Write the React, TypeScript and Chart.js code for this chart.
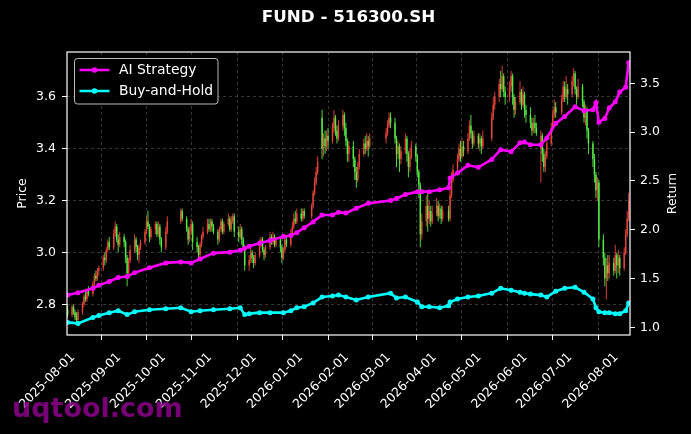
import React, { useEffect, useRef } from 'react';
import { Chart, registerables } from 'chart.js';

Chart.register(...registerables);

const TITLE = 'FUND - 516300.SH';
const ORIGIN = '2025-08-01';
const CANDLE_START = '2025-07-25';
const CANDLE_END = '2026-08-06';
const HOLIDAYS = [
  '2025-10-01', '2025-10-02', '2025-10-03', '2025-10-06', '2025-10-07', '2025-10-08',
  '2026-01-01', '2026-01-02',
  '2026-02-16', '2026-02-17', '2026-02-18', '2026-02-19', '2026-02-20', '2026-02-23',
  '2026-04-06', '2026-05-01', '2026-05-04', '2026-05-05', '2026-06-19',
];
const monthTicks = [
  '2025-08-01', '2025-09-01', '2025-10-01', '2025-11-01', '2025-12-01', '2026-01-01',
  '2026-02-01', '2026-03-01', '2026-04-01', '2026-05-01', '2026-06-01', '2026-07-01', '2026-08-01',
];
const priceTicks = [2.8, 3.0, 3.2, 3.4, 3.6];
const returnTicks = [1.0, 1.5, 2.0, 2.5, 3.0, 3.5];

const opens = [
  2.78,
  2.76, 2.79, 2.77, 2.75, 2.74,
  2.77, 2.80, 2.83, 2.82, 2.85,
  2.84, 2.88, 2.91, 2.90, 2.93,
  2.94, 2.98, 2.97, 3.01, 3.04,
  3.02, 3.07, 3.10, 3.05, 3.03,
  3.06, 3.04, 2.98, 2.92, 2.97,
  3.01, 3.05, 3.02, 2.99, 3.02,
  3.04, 3.08, 3.12, 3.10, 3.06,
  3.09, 3.11, 3.07, 3.10, 3.05,
  3.02, 3.08,
  3.12, 3.16,
  3.13, 3.09, 3.05, 3.08, 3.11,
  3.04, 3.02, 2.99, 3.03, 3.06,
  3.08, 3.11, 3.09, 3.12, 3.10,
  3.08, 3.05, 3.09, 3.12, 3.08,
  3.11, 3.13, 3.09, 3.12, 3.14,
  3.08, 3.06, 3.09, 3.05, 3.02,
  2.95, 2.97, 3.00, 2.98, 2.96,
  2.99, 3.03, 3.05, 3.01, 2.99,
  3.02, 3.06, 3.04, 3.06, 3.03,
  3.05, 3.02, 2.98, 3.01, 3.05,
  3.03, 3.07, 3.10, 3.13, 3.12,
  3.15, 3.13, 3.16,
  3.14, 3.18, 3.23, 3.27, 3.31,
  3.52, 3.40, 3.44, 3.41, 3.45,
  3.43, 3.48, 3.52, 3.47, 3.44,
  3.49, 3.53, 3.48, 3.43, 3.38,
  3.41, 3.36, 3.31, 3.28, 3.33,
  3.38, 3.42, 3.40, 3.43, 3.41,
  3.44, 3.46, 3.49, 3.52,
  3.50, 3.44, 3.38, 3.41, 3.36,
  3.39, 3.44, 3.38, 3.33, 3.37,
  3.41, 3.37, 3.31, 3.26, 3.07,
  3.12, 3.18, 3.13, 3.16, 3.12,
  3.15, 3.18, 3.14, 3.17, 3.13,
  3.16, 3.13, 3.22, 3.28,
  3.32, 3.36, 3.40, 3.37, 3.41,
  3.39, 3.44, 3.49, 3.46, 3.42,
  3.45, 3.42, 3.44, 3.41,
  3.44, 3.52, 3.57,
  3.60, 3.65, 3.63, 3.68, 3.62,
  3.60, 3.64, 3.68, 3.60, 3.55,
  3.58, 3.62, 3.57, 3.61, 3.55,
  3.53, 3.50, 3.47, 3.50, 3.48,
  3.40, 3.45, 3.38, 3.33, 3.37,
  3.42, 3.48, 3.53, 3.56,
  3.54, 3.59, 3.64, 3.60, 3.63,
  3.61, 3.66, 3.69, 3.63, 3.60,
  3.64, 3.58, 3.52, 3.55, 3.47,
  3.42, 3.36, 3.30, 3.24, 3.27,
  3.05, 2.98, 2.90, 2.95, 2.92,
  2.96, 2.93, 2.99, 2.95, 2.98,
  2.94, 3.00, 3.07, 3.13,
];
const closes = [
  2.76,
  2.79, 2.77, 2.75, 2.74, 2.77,
  2.80, 2.83, 2.82, 2.85, 2.84,
  2.88, 2.91, 2.90, 2.93, 2.94,
  2.98, 2.97, 3.01, 3.04, 3.02,
  3.07, 3.10, 3.05, 3.03, 3.06,
  3.04, 2.98, 2.92, 2.97, 3.01,
  3.05, 3.02, 2.99, 3.02, 3.04,
  3.08, 3.12, 3.10, 3.06, 3.09,
  3.11, 3.07, 3.10, 3.05, 3.02,
  3.08, 3.12,
  3.16, 3.13,
  3.09, 3.05, 3.08, 3.11, 3.04,
  3.02, 2.99, 3.03, 3.06, 3.08,
  3.11, 3.09, 3.12, 3.10, 3.08,
  3.05, 3.09, 3.12, 3.08, 3.11,
  3.13, 3.09, 3.12, 3.14, 3.08,
  3.06, 3.09, 3.05, 3.02, 2.95,
  2.97, 3.00, 2.98, 2.96, 2.99,
  3.03, 3.05, 3.01, 2.99, 3.02,
  3.06, 3.04, 3.06, 3.03, 3.05,
  3.02, 2.98, 3.01, 3.05, 3.03,
  3.07, 3.10, 3.13, 3.12, 3.15,
  3.13, 3.16, 3.14,
  3.18, 3.23, 3.27, 3.31, 3.35,
  3.40, 3.44, 3.41, 3.45, 3.43,
  3.48, 3.52, 3.47, 3.44, 3.49,
  3.53, 3.48, 3.43, 3.38, 3.41,
  3.36, 3.31, 3.28, 3.33, 3.38,
  3.42, 3.40, 3.43, 3.41, 3.44,
  3.46, 3.49, 3.52, 3.50,
  3.44, 3.38, 3.41, 3.36, 3.39,
  3.44, 3.38, 3.33, 3.37, 3.41,
  3.37, 3.31, 3.26, 3.07, 3.12,
  3.18, 3.13, 3.16, 3.12, 3.15,
  3.18, 3.14, 3.17, 3.13, 3.16,
  3.13, 3.22, 3.28, 3.32,
  3.36, 3.40, 3.37, 3.41, 3.39,
  3.44, 3.49, 3.46, 3.42, 3.45,
  3.42, 3.44, 3.41, 3.44,
  3.52, 3.57, 3.60,
  3.65, 3.63, 3.68, 3.62, 3.60,
  3.64, 3.68, 3.60, 3.55, 3.58,
  3.62, 3.57, 3.61, 3.55, 3.53,
  3.50, 3.47, 3.50, 3.48, 3.46,
  3.45, 3.38, 3.33, 3.37, 3.42,
  3.48, 3.53, 3.56, 3.54,
  3.59, 3.64, 3.60, 3.63, 3.61,
  3.66, 3.69, 3.63, 3.60, 3.64,
  3.58, 3.52, 3.55, 3.47, 3.42,
  3.36, 3.30, 3.24, 3.27, 3.05,
  2.98, 2.90, 2.95, 2.92, 2.96,
  2.93, 2.99, 2.95, 2.98, 2.94,
  3.00, 3.07, 3.13, 3.20,
];
const highs = [
  2.80,
  2.80, 2.80, 2.78, 2.77, 2.78,
  2.81, 2.84, 2.85, 2.86, 2.87,
  2.89, 2.92, 2.93, 2.94, 2.95,
  2.99, 3.00, 3.02, 3.05, 3.06,
  3.09, 3.12, 3.11, 3.07, 3.08,
  3.07, 3.05, 2.99, 2.98, 3.03,
  3.07, 3.06, 3.03, 3.03, 3.05,
  3.09, 3.14, 3.16, 3.11, 3.10,
  3.12, 3.12, 3.12, 3.11, 3.06,
  3.10, 3.14,
  3.17, 3.17,
  3.14, 3.10, 3.10, 3.13, 3.12,
  3.06, 3.03, 3.04, 3.07, 3.10,
  3.13, 3.13, 3.13, 3.13, 3.11,
  3.09, 3.10, 3.13, 3.13, 3.12,
  3.15, 3.14, 3.14, 3.15, 3.15,
  3.10, 3.11, 3.10, 3.06, 3.03,
  2.99, 3.02, 3.01, 2.99, 3.00,
  3.05, 3.06, 3.06, 3.02, 3.03,
  3.08, 3.07, 3.08, 3.07, 3.06,
  3.06, 3.03, 3.02, 3.07, 3.06,
  3.09, 3.12, 3.15, 3.16, 3.17,
  3.17, 3.17, 3.17,
  3.19, 3.24, 3.29, 3.33, 3.37,
  3.55, 3.46, 3.47, 3.47, 3.48,
  3.50, 3.55, 3.53, 3.49, 3.51,
  3.55, 3.54, 3.50, 3.44, 3.43,
  3.43, 3.37, 3.33, 3.35, 3.40,
  3.44, 3.45, 3.46, 3.45, 3.46,
  3.48, 3.51, 3.54, 3.54,
  3.52, 3.45, 3.43, 3.42, 3.41,
  3.46, 3.45, 3.39, 3.40, 3.43,
  3.42, 3.38, 3.32, 3.27, 3.15,
  3.22, 3.24, 3.20, 3.18, 3.18,
  3.21, 3.20, 3.19, 3.18, 3.18,
  3.18, 3.24, 3.31, 3.34,
  3.38, 3.42, 3.43, 3.44, 3.43,
  3.46, 3.51, 3.53, 3.47, 3.47,
  3.46, 3.46, 3.45, 3.47,
  3.54, 3.60, 3.62,
  3.67, 3.70, 3.72, 3.69, 3.64,
  3.66, 3.70, 3.69, 3.61, 3.60,
  3.66, 3.63, 3.64, 3.62, 3.57,
  3.56, 3.52, 3.52, 3.53, 3.50,
  3.47, 3.46, 3.40, 3.39, 3.44,
  3.50, 3.55, 3.59, 3.58,
  3.61, 3.66, 3.66, 3.68, 3.65,
  3.68, 3.71, 3.70, 3.64, 3.67,
  3.65, 3.59, 3.57, 3.56, 3.48,
  3.43, 3.38, 3.31, 3.29, 3.28,
  3.07, 3.00, 2.98, 2.99, 2.99,
  2.98, 3.03, 3.00, 3.01, 2.99,
  3.02, 3.09, 3.16, 3.23,
];
const lows = [
  2.75,
  2.75, 2.76, 2.74, 2.73, 2.73,
  2.76, 2.79, 2.81, 2.81, 2.83,
  2.83, 2.87, 2.89, 2.89, 2.91,
  2.93, 2.95, 2.96, 3.00, 3.01,
  3.01, 3.06, 3.04, 3.00, 3.02,
  3.02, 2.96, 2.87, 2.91, 2.96,
  3.00, 3.00, 2.97, 2.96, 3.01,
  3.03, 3.07, 3.09, 3.04, 3.05,
  3.07, 3.06, 3.06, 3.03, 3.00,
  3.01, 3.07,
  3.11, 3.12,
  3.08, 3.03, 3.04, 3.07, 3.01,
  3.00, 2.97, 2.98, 3.02, 3.05,
  3.07, 3.08, 3.08, 3.08, 3.07,
  3.03, 3.04, 3.08, 3.07, 3.07,
  3.10, 3.08, 3.08, 3.11, 3.06,
  3.04, 3.05, 3.03, 3.01, 2.93,
  2.93, 2.96, 2.96, 2.94, 2.95,
  2.98, 3.02, 3.00, 2.97, 2.98,
  3.01, 3.03, 3.03, 3.02, 3.02,
  3.00, 2.96, 2.97, 3.00, 3.02,
  3.02, 3.06, 3.09, 3.11, 3.11,
  3.12, 3.12, 3.13,
  3.13, 3.17, 3.22, 3.26, 3.30,
  3.36, 3.37, 3.38, 3.39, 3.40,
  3.42, 3.46, 3.45, 3.42, 3.43,
  3.47, 3.45, 3.41, 3.35, 3.35,
  3.33, 3.28, 3.25, 3.27, 3.32,
  3.37, 3.38, 3.39, 3.37, 3.40,
  3.42, 3.45, 3.48, 3.48,
  3.42, 3.33, 3.36, 3.31, 3.34,
  3.38, 3.35, 3.29, 3.31, 3.36,
  3.35, 3.29, 3.21, 3.02, 3.05,
  3.10, 3.08, 3.11, 3.10, 3.11,
  3.14, 3.12, 3.13, 3.11, 3.12,
  3.12, 3.12, 3.21, 3.27,
  3.30, 3.35, 3.35, 3.36, 3.37,
  3.38, 3.43, 3.44, 3.40, 3.41,
  3.40, 3.39, 3.38, 3.40,
  3.43, 3.51, 3.55,
  3.58, 3.60, 3.62, 3.60, 3.57,
  3.58, 3.62, 3.57, 3.52, 3.53,
  3.57, 3.55, 3.56, 3.52, 3.50,
  3.48, 3.45, 3.46, 3.46, 3.45,
  3.27, 3.35, 3.31, 3.31, 3.36,
  3.41, 3.47, 3.52, 3.52,
  3.53, 3.58, 3.58, 3.59, 3.57,
  3.60, 3.64, 3.61, 3.57, 3.59,
  3.56, 3.50, 3.49, 3.44, 3.38,
  3.33, 3.27, 3.21, 3.20, 3.02,
  2.95, 2.87, 2.82, 2.89, 2.90,
  2.91, 2.92, 2.90, 2.92, 2.91,
  2.93, 2.99, 3.06, 3.12,
];

const lineDates = [
  '2025-07-25', '2025-08-01', '2025-08-11', '2025-08-15', '2025-08-22', '2025-08-28',
  '2025-09-03', '2025-09-08', '2025-09-18', '2025-09-29', '2025-10-09', '2025-10-16',
  '2025-10-22', '2025-10-31', '2025-11-11', '2025-11-18', '2025-11-21', '2025-11-24',
  '2025-12-01', '2025-12-08', '2025-12-17', '2025-12-22', '2025-12-26', '2025-12-31',
  '2026-01-06', '2026-01-12', '2026-01-19', '2026-01-23', '2026-01-28', '2026-02-04',
  '2026-02-12', '2026-02-27', '2026-03-03', '2026-03-09', '2026-03-17', '2026-03-20',
  '2026-03-25', '2026-04-01', '2026-04-07', '2026-04-08', '2026-04-13', '2026-04-20',
  '2026-04-27', '2026-05-06', '2026-05-12', '2026-05-19', '2026-05-25', '2026-05-28',
  '2026-06-01', '2026-06-08', '2026-06-12', '2026-06-18', '2026-06-24', '2026-07-01',
  '2026-07-07', '2026-07-13', '2026-07-15', '2026-07-17', '2026-07-21', '2026-07-24',
  '2026-07-28', '2026-07-31', '2026-08-04', '2026-08-06',
];
const aiReturn = [
  1.33, 1.355, 1.40, 1.43, 1.47, 1.51,
  1.52, 1.56, 1.61, 1.66, 1.67, 1.66,
  1.70, 1.76, 1.77, 1.79, 1.81, 1.83,
  1.86, 1.89, 1.93, 1.94, 1.97, 2.02,
  2.08, 2.15, 2.15, 2.18, 2.17, 2.22,
  2.27, 2.30, 2.32, 2.36, 2.39, 2.39,
  2.39, 2.41, 2.43, 2.53, 2.58, 2.66,
  2.64, 2.72, 2.82, 2.80, 2.89, 2.90,
  2.87, 2.87, 2.94, 3.09, 3.16, 3.26,
  3.22, 3.23, 3.30, 3.10, 3.14, 3.25,
  3.31, 3.41, 3.46, 3.71,
];
const bhReturn = [
  1.05, 1.04, 1.10, 1.12, 1.15, 1.17,
  1.13, 1.16, 1.18, 1.19, 1.20, 1.16,
  1.17, 1.18, 1.19, 1.20, 1.13, 1.14,
  1.15, 1.15, 1.15, 1.17, 1.20, 1.21,
  1.25, 1.31, 1.32, 1.33, 1.31, 1.28,
  1.31, 1.35, 1.30, 1.31, 1.26, 1.21,
  1.21, 1.20, 1.22, 1.26, 1.29, 1.31,
  1.32, 1.35, 1.40, 1.38, 1.36, 1.35,
  1.34, 1.33, 1.31, 1.37, 1.40, 1.41,
  1.36, 1.29, 1.20, 1.16, 1.15, 1.15,
  1.14, 1.14, 1.17, 1.25,
];

const UP = 'rgba(235,70,60,0.9)';
const DOWN = 'rgba(85,240,72,0.9)';
const AI_COLOR = '#ff00ff';
const BH_COLOR = '#00ffff';

const DAY = 86400000;
function toUTC(s: string) {
  const [y, m, d] = s.split('-').map(Number);
  return Date.UTC(y, m - 1, d);
}
function dayOffset(s: string) {
  return Math.round((toUTC(s) - toUTC(ORIGIN)) / DAY);
}
function tradingDays(): string[] {
  const out: string[] = [];
  const hol = new Set(HOLIDAYS);
  for (let t = toUTC(CANDLE_START); t <= toUTC(CANDLE_END); t += DAY) {
    const dt = new Date(t);
    const wd = dt.getUTCDay();
    const s = dt.toISOString().slice(0, 10);
    if (wd === 0 || wd === 6 || hol.has(s)) continue;
    out.push(s);
  }
  return out;
}

const overlayPlugin = {
  id: 'overlay',
  afterDraw(chart: any) {
    const { ctx, chartArea: a } = chart;
    ctx.save();
    ctx.strokeStyle = '#ffffff';
    ctx.lineWidth = 1.2;
    ctx.setLineDash([]);
    ctx.strokeRect(a.left, a.top, a.right - a.left, a.bottom - a.top);

    const lx = a.left + 7.5;
    const ly = a.top + 6.5;
    const lw = 143.5;
    const lh = 45.5;
    ctx.beginPath();
    if (ctx.roundRect) ctx.roundRect(lx, ly, lw, lh, 3);
    else ctx.rect(lx, ly, lw, lh);
    ctx.fillStyle = 'rgba(0,0,0,0.8)';
    ctx.fill();
    ctx.strokeStyle = 'rgba(220,220,220,0.85)';
    ctx.lineWidth = 1;
    ctx.stroke();
    const rows = [
      { label: 'AI Strategy', color: AI_COLOR, y: a.top + 18 },
      { label: 'Buy-and-Hold', color: BH_COLOR, y: a.top + 39 },
    ];
    ctx.font = '13.9px "DejaVu Sans", sans-serif';
    ctx.textBaseline = 'middle';
    ctx.textAlign = 'left';
    rows.forEach((r) => {
      ctx.strokeStyle = r.color;
      ctx.lineWidth = 2.5;
      ctx.beginPath();
      ctx.moveTo(lx + 5, r.y);
      ctx.lineTo(lx + 35, r.y);
      ctx.stroke();
      ctx.fillStyle = r.color;
      ctx.beginPath();
      ctx.arc(lx + 20, r.y, 2.8, 0, Math.PI * 2);
      ctx.fill();
      ctx.fillStyle = '#ffffff';
      ctx.fillText(r.label, lx + 44.5, r.y + 0.5);
    });

    ctx.fillStyle = '#ffffff';
    ctx.font = 'bold 16.7px "DejaVu Sans", sans-serif';
    ctx.textAlign = 'center';
    ctx.textBaseline = 'middle';
    ctx.fillText(TITLE, (a.left + a.right) / 2, 18);

    ctx.font = '12.5px "DejaVu Sans", sans-serif';
    const cy = (a.top + a.bottom) / 2;
    ctx.save();
    ctx.translate(23, cy);
    ctx.rotate(-Math.PI / 2);
    ctx.fillText('Price', 0, 0);
    ctx.restore();
    ctx.save();
    ctx.translate(673, cy);
    ctx.rotate(-Math.PI / 2);
    ctx.fillText('Return', 0, 0);
    ctx.restore();

    ctx.font = 'bold 27px "DejaVu Sans", sans-serif';
    ctx.textAlign = 'left';
    ctx.textBaseline = 'alphabetic';
    ctx.fillStyle = 'rgba(140,0,140,0.85)';
    ctx.fillText('uqtool.com', 12, 417);
    ctx.restore();
  },
};

export default function App() {
  const ref = useRef<HTMLCanvasElement>(null);
  useEffect(() => {
    document.body.style.margin = '0';
    document.body.style.background = '#000';
    const canvas = ref.current;
    if (!canvas) return;

    const days = tradingDays();
    const n = Math.min(days.length, opens.length, closes.length, highs.length, lows.length);
    const xs = days.slice(0, n).map(dayOffset);
    const colors = xs.map((_, i) => (closes[i] >= opens[i] ? UP : DOWN));
    const wickData = xs.map((x, i) => ({ x, y: [lows[i], highs[i]] }));
    const bodyData = xs.map((x, i) => ({ x, y: [opens[i], closes[i]] }));
    const aiData = lineDates.map((d, i) => ({ x: dayOffset(d), y: aiReturn[i] }));
    const bhData = lineDates.map((d, i) => ({ x: dayOffset(d), y: bhReturn[i] }));
    const monthVals = monthTicks.map(dayOffset);
    const monthLabel: Record<number, string> = {};
    monthTicks.forEach((m, i) => (monthLabel[monthVals[i]] = m));

    Chart.defaults.font.family = '"DejaVu Sans", sans-serif';
    Chart.defaults.color = '#ffffff';

    const gridCommon = {
      color: 'rgba(150,150,150,0.45)',
      lineWidth: 0.8,
      tickColor: '#ffffff',
      tickLength: 5,
      tickWidth: 1,
      tickBorderDash: [],
    };

    const chart = new Chart(canvas, {
      type: 'bar',
      data: {
        datasets: [
          {
            type: 'line',
            label: 'AI Strategy',
            data: aiData,
            yAxisID: 'y1',
            borderColor: AI_COLOR,
            backgroundColor: AI_COLOR,
            borderWidth: 2.6,
            pointRadius: 1.2,
            pointHoverRadius: 0,
            tension: 0,
            order: 0,
          } as any,
          {
            type: 'line',
            label: 'Buy-and-Hold',
            data: bhData,
            yAxisID: 'y1',
            borderColor: BH_COLOR,
            backgroundColor: BH_COLOR,
            borderWidth: 2.6,
            pointRadius: 1.2,
            pointHoverRadius: 0,
            tension: 0,
            order: 1,
          } as any,
          {
            type: 'bar',
            label: 'body',
            data: bodyData as any,
            yAxisID: 'y',
            backgroundColor: colors,
            borderWidth: 0,
            barThickness: 1.5,
            inflateAmount: 0,
            grouped: false,
            order: 2,
          } as any,
          {
            type: 'bar',
            label: 'wick',
            data: wickData as any,
            yAxisID: 'y',
            backgroundColor: colors,
            borderWidth: 0,
            barThickness: 1,
            inflateAmount: 0,
            grouped: false,
            order: 3,
          } as any,
        ],
      },
      options: {
        responsive: false,
        animation: false,
        events: [],
        layout: { padding: { top: 52, left: 0, right: 0, bottom: 0 } },
        plugins: {
          legend: { display: false },
          tooltip: { enabled: false },
          title: { display: false },
        },
        scales: {
          x: {
            type: 'linear',
            min: -7.4,
            max: 370.9,
            offset: false,
            afterBuildTicks: (s: any) => {
              s.ticks = monthVals.map((v) => ({ value: v }));
            },
            afterFit: (s: any) => {
              s.height = 99;
            },
            ticks: {
              autoSkip: false,
              minRotation: 45,
              maxRotation: 45,
              padding: 10,
              labelOffset: -5,
              color: '#ffffff',
              font: { size: 12.5 },
              callback: (v: any) => monthLabel[v] ?? '',
            },
            grid: gridCommon,
            border: { display: false, dash: [3, 3] },
          },
          y: {
            type: 'linear',
            position: 'left',
            min: 2.682,
            max: 3.773,
            afterBuildTicks: (s: any) => {
              s.ticks = priceTicks.map((v) => ({ value: v }));
            },
            afterFit: (s: any) => {
              s.width = 67;
            },
            ticks: {
              padding: 6,
              color: '#ffffff',
              font: { size: 12.5 },
              callback: (v: any) => Number(v).toFixed(1),
            },
            grid: gridCommon,
            border: { display: false, dash: [3, 3] },
          },
          y1: {
            type: 'linear',
            position: 'right',
            min: 0.921,
            max: 3.821,
            afterBuildTicks: (s: any) => {
              s.ticks = returnTicks.map((v) => ({ value: v }));
            },
            afterFit: (s: any) => {
              s.width = 61;
            },
            ticks: {
              padding: 5,
              color: '#ffffff',
              font: { size: 12.5 },
              callback: (v: any) => Number(v).toFixed(1),
            },
            grid: { ...gridCommon, drawOnChartArea: false },
            border: { display: false },
          },
        },
      } as any,
      plugins: [overlayPlugin],
    });
    return () => chart.destroy();
  }, []);

  return (
    <div style={{ width: 691, height: 434, background: '#000' }}>
      <canvas ref={ref} width={691} height={434} style={{ display: 'block' }} />
    </div>
  );
}
